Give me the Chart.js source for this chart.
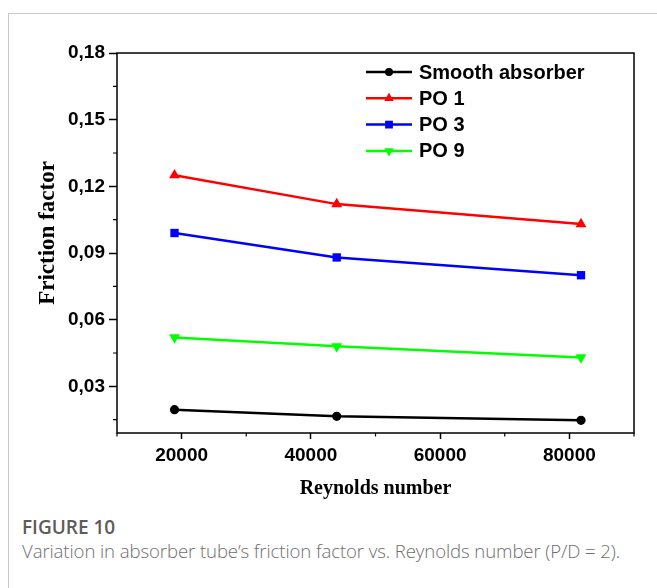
<!DOCTYPE html>
<html>
<head>
<meta charset="utf-8">
<script src="https://cdn.jsdelivr.net/npm/chart.js@4.4.0/dist/chart.umd.min.js"></script>
<style>
  html, body { margin: 0; padding: 0; background: #fff; }
  body { width: 657px; height: 588px; position: relative; overflow: hidden; }
  .frame { position: absolute; left: 8px; top: 13px; width: 700px; height: 600px;
           border-top: 1px solid #c9c9c9; border-left: 1px solid #c9c9c9; }
  #wrap { position: absolute; left: 0; top: 0; width: 657px; height: 505px; }
  .cap { position: absolute; left: 22px; font-family: "Open Sans", Lato, sans-serif; white-space: nowrap; }
  .cap1 { top: 514px; font-size: 19px; font-weight: 600; color: #5c5c5c; }
  .cap2 { top: 538px; font-size: 18.6px; font-weight: 300; color: #6e6e6e; letter-spacing: -0.1px; }
</style>
</head>
<body>
<div class="frame"></div>
<div id="wrap"><canvas id="chart"></canvas></div>
<div class="cap cap1">FIGURE 10</div>
<div class="cap cap2">Variation in absorber tube’s friction factor vs. Reynolds number (P/D = 2).</div>
<script>
// valores
const reynolds = [18900, 44000, 81800];
const smooth = [0.0195, 0.0165, 0.0147];
const po1 = [0.125, 0.112, 0.103];
const po3 = [0.099, 0.088, 0.080];
const po9 = [0.052, 0.048, 0.043];
const seriesNames = ["Smooth absorber", "PO 1", "PO 3", "PO 9"];

const yTicks = [0.03, 0.06, 0.09, 0.12, 0.15, 0.18];
const yMinor = [0.015, 0.045, 0.075, 0.105, 0.135, 0.165];
const xTicks = [20000, 40000, 60000, 80000];
const xMinor = [10000, 30000, 50000, 70000, 90000];

const sansBold = '"Liberation Sans", Arial, sans-serif';
const serifBold = '"Liberation Serif", "Times New Roman", serif';

function pts(ys) {
  return reynolds.map((x, i) => ({ x: x, y: ys[i] }));
}

function serie(label, ys, color, style, radius, rotation) {
  return {
    label: label,
    data: pts(ys),
    borderColor: color,
    backgroundColor: color,
    borderWidth: 2.5,
    pointStyle: style,
    pointRadius: radius,
    pointHoverRadius: radius,
    pointRotation: rotation || 0,
    pointBorderWidth: 0,
    tension: 0,
  };
}

// caixa, ticks menores, título do eixo Y e legenda dentro da área
const extras = {
  id: "extras",
  afterDraw(chart) {
    const ctx = chart.ctx;
    const a = chart.chartArea;
    const sx = chart.scales.x;
    const sy = chart.scales.y;
    ctx.save();
    ctx.strokeStyle = "#000";
    ctx.lineWidth = 1.5;
    ctx.strokeRect(a.left, a.top, a.right - a.left, a.bottom - a.top);

    ctx.lineWidth = 1.2;
    ctx.beginPath();
    yMinor.forEach(v => {
      const p = sy.getPixelForValue(v);
      ctx.moveTo(a.left - 4, p);
      ctx.lineTo(a.left, p);
    });
    xMinor.forEach(v => {
      const p = sx.getPixelForValue(v);
      ctx.moveTo(p, a.bottom);
      ctx.lineTo(p, a.bottom + 3.5);
    });
    ctx.stroke();

    // título do eixo Y (um pouco acima do centro, como no original)
    ctx.save();
    ctx.translate(48, a.top + 180);
    ctx.rotate(-Math.PI / 2);
    ctx.font = "bold 23px " + serifBold;
    ctx.fillStyle = "#000";
    ctx.textAlign = "center";
    ctx.textBaseline = "middle";
    ctx.fillText("Friction factor", 0, 0);
    ctx.restore();

    // legenda
    ctx.font = "bold 20px " + sansBold;
    ctx.textBaseline = "middle";
    ctx.textAlign = "left";
    chart.data.datasets.forEach((ds, i) => {
      const y = a.top + 19 + i * 26.3;
      const x0 = a.left + 249;
      ctx.strokeStyle = ds.borderColor;
      ctx.lineWidth = 2.5;
      ctx.beginPath();
      ctx.moveTo(x0, y);
      ctx.lineTo(x0 + 46, y);
      ctx.stroke();
      ctx.fillStyle = ds.backgroundColor;
      Chart.helpers.drawPoint(ctx, {
        pointStyle: ds.pointStyle,
        radius: ds.pointStyle === "circle" ? 4 : 5.5,
        rotation: ds.pointRotation,
        borderWidth: 0,
      }, x0 + 23, y);
      ctx.fillStyle = "#000";
      ctx.fillText(ds.label, x0 + 53, y + 1);
    });
    ctx.restore();
  },
};

new Chart(document.getElementById("chart"), {
  type: "line",
  data: {
    datasets: [
      serie(seriesNames[0], smooth, "#000000", "circle", 4.6),
      serie(seriesNames[1], po1, "#ff0000", "triangle", 6.3),
      serie(seriesNames[2], po3, "#0000ff", "rect", 5.9),
      serie(seriesNames[3], po9, "#00ff00", "triangle", 6.3, 180),
    ],
  },
  options: {
    responsive: true,
    maintainAspectRatio: false,
    animation: false,
    layout: { padding: { top: 53, right: 23, left: 0, bottom: 0 } },
    plugins: {
      legend: { display: false },
      tooltip: { enabled: false },
    },
    scales: {
      x: {
        type: "linear",
        min: 10000,
        max: 90000,
        afterBuildTicks: s => { s.ticks = xTicks.map(v => ({ value: v })); },
        afterFit: s => { s.height = 72; },
        border: { display: false },
        grid: { drawOnChartArea: false, tickLength: 6, tickWidth: 1.5, tickColor: "#000" },
        ticks: {
          color: "#000",
          padding: 5,
          maxRotation: 0,
          font: { family: sansBold, size: 19, weight: "bold" },
          callback: v => String(v),
        },
        title: {
          display: true,
          text: "Reynolds number",
          color: "#000",
          font: { family: serifBold, size: 20, weight: "bold" },
          padding: { top: 0, bottom: 4 },
        },
      },
      y: {
        type: "linear",
        min: 0.009,
        max: 0.18,
        afterBuildTicks: s => { s.ticks = yTicks.map(v => ({ value: v })); },
        afterFit: s => { s.width = 117; },
        border: { display: false },
        grid: { drawOnChartArea: false, tickLength: 8, tickWidth: 1.5, tickColor: "#000" },
        ticks: {
          color: "#000",
          padding: 4,
          font: { family: sansBold, size: 19, weight: "bold" },
          callback: v => v.toFixed(2).replace(".", ","),
        },
      },
    },
  },
  plugins: [extras],
});
</script>
</body>
</html>
